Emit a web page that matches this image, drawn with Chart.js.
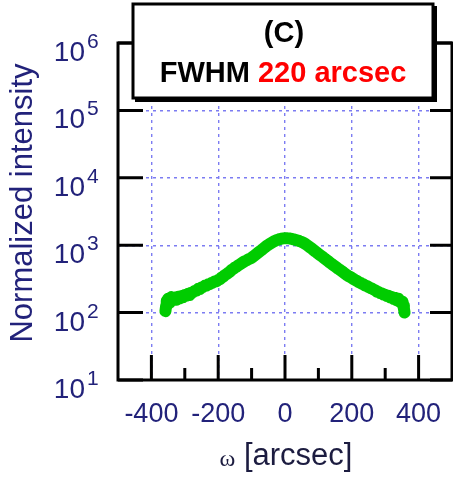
<!DOCTYPE html>
<html>
<head>
<meta charset="utf-8">
<script src="https://cdn.jsdelivr.net/npm/chart.js@4"></script>
<style>
  html, body { margin: 0; padding: 0; background: #fff; }
  #grafico { display: block; }
</style>
</head>
<body>
<canvas id="grafico" width="453" height="480"></canvas>
<script>
// valores (omega en arcsec, intensidad normalizada)
const omega = [-358, -356, -354, -352, -350, -347, -345, -342, -340, -335, -330, -325, -320, -315,
  -310, -305, -300, -295, -290, -285, -280, -275, -270, -265, -260, -255, -250, -245, -240,
  -235, -230, -225, -220, -215, -210, -205, -200, -195, -190, -185, -180, -175, -170, -165,
  -160, -155, -150, -145, -140, -135, -130, -125, -120, -115, -110, -105, -100, -95, -90,
  -85, -80, -75, -70, -65, -60, -55, -50, -45, -40, -35, -30, -25, -20, -15, -10, -5, 0,
  5, 10, 15, 20, 25, 30, 35, 40, 45, 50, 55, 60, 65, 70, 75, 80, 85, 90, 95, 100,
  105, 110, 115, 120, 125, 130, 135, 140, 145, 150, 155, 160, 165, 170, 175, 180, 185, 190,
  195, 200, 205, 210, 215, 220, 225, 230, 235, 240, 245, 250, 255, 260, 265, 270, 275, 280,
  285, 290, 295, 300, 305, 310, 315, 320, 325, 330, 335, 340, 343, 346, 349, 352, 354, 356, 358];
const intensity = [105, 125, 150, 135, 160, 140, 165, 150, 170, 158, 168, 155, 172, 162,
  175, 170, 182, 178, 190, 184, 198, 200, 210, 212, 225, 224, 236, 240, 250,
  252, 262, 265, 275, 280, 290, 292, 305, 312, 330, 340, 360, 372, 390, 405,
  428, 445, 465, 480, 500, 520, 540, 560, 580, 595, 615, 632, 650, 680, 710,
  745, 780, 815, 850, 890, 930, 975, 1010, 1050, 1090, 1125, 1160, 1185, 1210, 1235, 1250, 1262, 1270,
  1268, 1262, 1255, 1240, 1225, 1205, 1185, 1165, 1140, 1120, 1085, 1050, 1010, 970, 930, 890, 850, 810, 780, 745,
  715, 685, 655, 625, 600, 575, 548, 525, 505, 485, 465, 445, 428, 410, 395, 378, 362, 348,
  338, 328, 315, 305, 296, 285, 278, 268, 262, 252, 248, 240, 232, 228, 220, 215, 205, 202,
  195, 193, 185, 184, 176, 178, 168, 170, 160, 165, 152, 160, 145, 150, 138, 145, 128, 115, 100];

const xTickLabels = [-400, -200, 0, 200, 400];
const xMinorTicks = [-300, -100, 100, 300];
const yTickValues = [10, 100, 1000, 10000, 100000, 1000000];
const yTickExponents = ['1', '2', '3', '4', '5', '6'];

const titleLine1 = '(C)';
const titleLine2a = 'FWHM ';
const titleLine2b = '220 arcsec';
const yTitle = 'Normalized intensity';
const xTitleSymbol = 'ω';
const xTitleText = ' [arcsec]';

const gridColor = '#7c7cf2';
const labelColor = '#22227a';

// plugin para marco, ticks hacia dentro, etiquetas y recuadro
const decoraciones = {
  id: 'decoraciones',
  afterDraw(chart) {
    const c = chart.ctx;
    const a = chart.chartArea;
    const xs = chart.scales.x;
    const ys = chart.scales.y;
    c.save();

    // ticks hacia dentro
    c.strokeStyle = '#000';
    c.lineWidth = 3;
    c.beginPath();
    yTickValues.forEach(v => {
      const py = ys.getPixelForValue(v);
      c.moveTo(a.left, py); c.lineTo(a.left + 25, py);
      c.moveTo(a.right - 22, py); c.lineTo(a.right, py);
    });
    xTickLabels.forEach(v => {
      const px = xs.getPixelForValue(v);
      c.moveTo(px, a.bottom); c.lineTo(px, a.bottom - 25);
    });
    xMinorTicks.forEach(v => {
      const px = xs.getPixelForValue(v);
      c.moveTo(px, a.bottom); c.lineTo(px, a.bottom - 12);
    });
    c.stroke();

    // marco
    c.strokeRect(a.left, a.top, a.right - a.left, a.bottom - a.top);

    // etiquetas del eje y con exponente
    c.fillStyle = labelColor;
    c.textBaseline = 'alphabetic';
    yTickValues.forEach((v, i) => {
      const py = ys.getPixelForValue(v);
      c.font = '28px "Liberation Sans", Arial, sans-serif';
      c.textAlign = 'right';
      c.fillText('10', 85, py + 18);
      c.font = '21px "Liberation Sans", Arial, sans-serif';
      c.textAlign = 'left';
      c.fillText(yTickExponents[i], 87, py + 5);
    });

    // titulo eje y
    c.save();
    c.translate(32, 203);
    c.rotate(-Math.PI / 2);
    c.font = '31px "Liberation Sans", Arial, sans-serif';
    c.textAlign = 'center';
    c.fillText(yTitle, 0, 0);
    c.restore();

    // titulo eje x
    c.font = '24px "Liberation Serif", serif';
    const wSym = c.measureText(xTitleSymbol).width;
    c.font = '31px "Liberation Sans", Arial, sans-serif';
    const wTxt = c.measureText(xTitleText).width;
    let x0 = 286 - (wSym + wTxt) / 2;
    c.textAlign = 'left';
    c.fillStyle = '#1c1c40';
    c.font = '24px "Liberation Serif", serif';
    c.fillText(xTitleSymbol, x0, 466);
    c.font = '31px "Liberation Sans", Arial, sans-serif';
    c.fillText(xTitleText, x0 + wSym, 465);

    // recuadro con el titulo
    c.fillStyle = '#000';
    c.fillRect(135, 6, 302, 96);
    c.fillStyle = '#fff';
    c.fillRect(133, 4, 300, 94);
    c.lineWidth = 3;
    c.strokeStyle = '#000';
    c.strokeRect(133, 4, 300, 94);

    c.font = 'bold 29px "Liberation Sans", Arial, sans-serif';
    c.textAlign = 'center';
    c.fillStyle = '#000';
    c.fillText(titleLine1, 284, 42);
    const w1 = c.measureText(titleLine2a).width;
    const w2 = c.measureText(titleLine2b).width;
    const sx = 283 - (w1 + w2) / 2;
    c.textAlign = 'left';
    c.fillText(titleLine2a, sx, 82);
    c.fillStyle = '#ff0000';
    c.fillText(titleLine2b, sx + w1, 82);

    c.restore();
  }
};

const puntos = omega.map((w, i) => ({ x: w, y: intensity[i] }));

const ctx = document.getElementById('grafico');
window.myChart = new Chart(ctx, {
  type: 'line',
  data: {
    datasets: [{
      label: 'Intensidad',
      data: puntos,
      borderColor: '#00cc00',
      backgroundColor: '#00cc00',
      borderWidth: 12,
      borderJoinStyle: 'round',
      borderCapStyle: 'round',
      pointRadius: 0,
      tension: 0
    }]
  },
  options: {
    responsive: false,
    animation: false,
    layout: { padding: { top: 43, right: 1, left: 1, bottom: 0 } },
    plugins: {
      legend: { display: false },
      tooltip: { enabled: false }
    },
    scales: {
      x: {
        type: 'linear',
        min: -500,
        max: 500,
        afterFit(scale) {
          scale.height = 100;
          scale.paddingLeft = 0;
          scale.paddingRight = 0;
        },
        ticks: {
          stepSize: 100,
          autoSkip: false,
          maxRotation: 0,
          padding: 18,
          color: labelColor,
          font: { family: '"Liberation Sans", Arial, sans-serif', size: 27 },
          callback: v => xTickLabels.includes(v) ? String(v) : ''
        },
        grid: {
          drawTicks: false,
          lineWidth: 1.4,
          color: c => xTickLabels.includes(c.tick && c.tick.value) ? gridColor : 'rgba(0,0,0,0)'
        },
        border: { display: false, dash: [3, 4] }
      },
      y: {
        type: 'logarithmic',
        min: 10,
        max: 1000000,
        afterFit(scale) { scale.width = 117; },
        afterBuildTicks(scale) { scale.ticks = yTickValues.map(v => ({ value: v })); },
        ticks: { display: false },
        grid: {
          drawTicks: false,
          lineWidth: 1.4,
          color: gridColor
        },
        border: { display: false, dash: [3, 4] }
      }
    }
  },
  plugins: [decoraciones]
});
</script>
</body>
</html>
